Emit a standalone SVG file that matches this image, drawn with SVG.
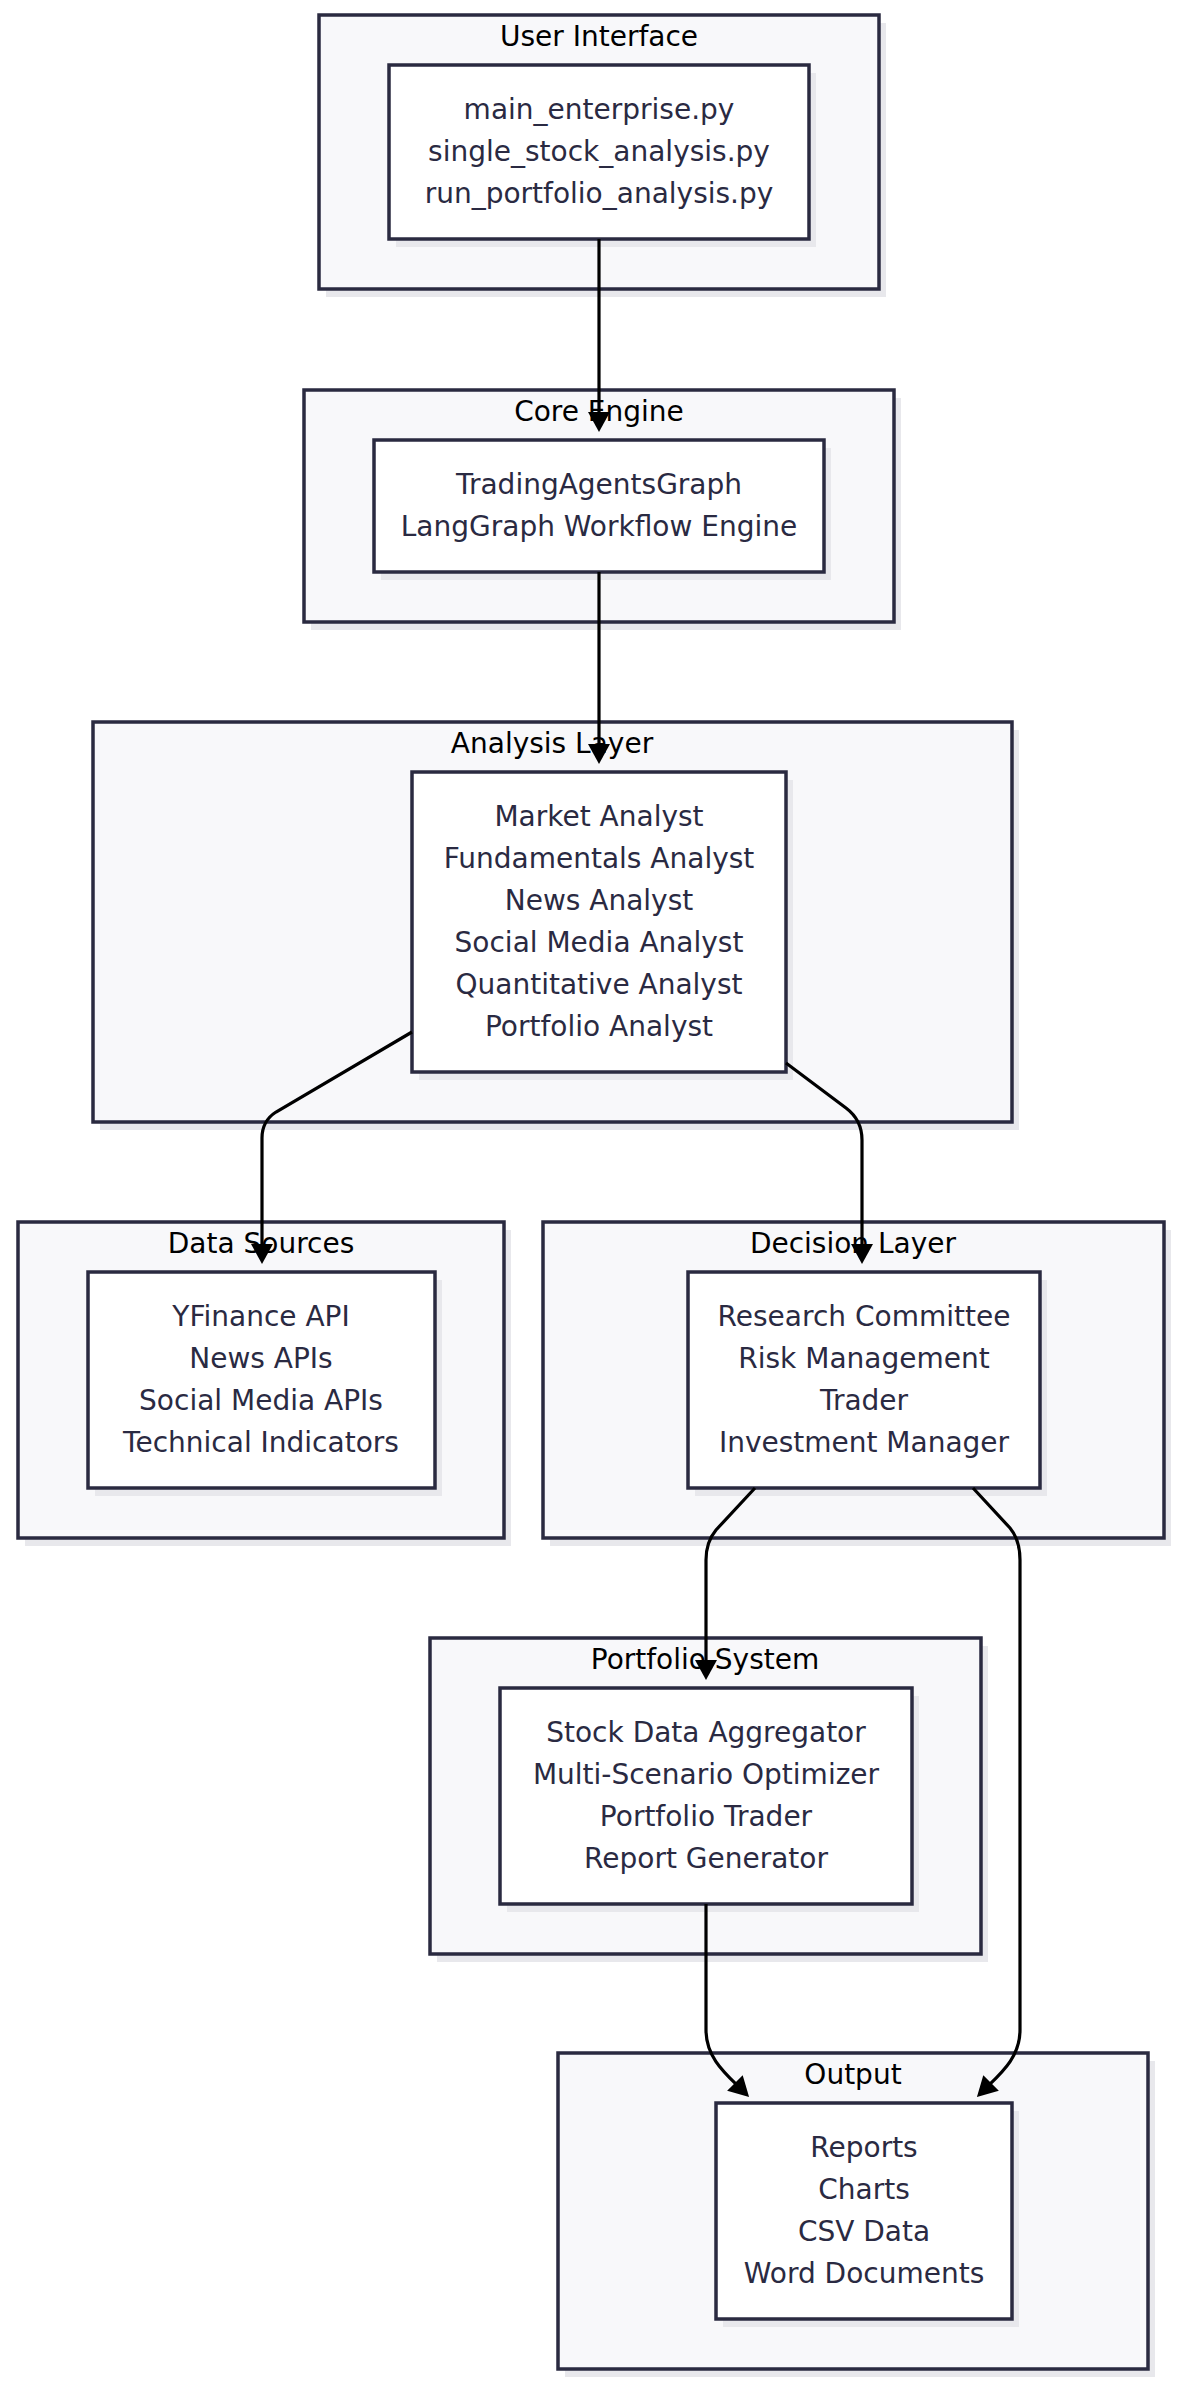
<svg xmlns="http://www.w3.org/2000/svg" width="1182" height="2386" viewBox="0 0 1182 2386">
<defs>
<marker id="arrow" viewBox="0 0 20 22" refX="10" refY="11" markerWidth="20" markerHeight="22" markerUnits="userSpaceOnUse" orient="auto">
<path d="M0,0 L20,11 L0,22 z" fill="#000"/>
</marker>
</defs>
<style>
.cl{fill:#f8f8fa;stroke:#2a2a40;stroke-width:3.5}
.nd{fill:#ffffff;stroke:#2a2a40;stroke-width:3.5}
.sh{fill:#e8e8ec}
.ttl{font-family:"DejaVu Sans",sans-serif;font-size:28px;fill:#000;text-anchor:middle}
.txt{font-family:"DejaVu Sans",sans-serif;font-size:28px;fill:#2a2a42;text-anchor:middle}
.edge{fill:none;stroke:#000;stroke-width:3.2;marker-end:url(#arrow)}
</style>
<rect width="1182" height="2386" fill="#ffffff"/>

<g id="cluster-ui">
<rect class="sh" x="326" y="23" width="560" height="274"/>
<rect class="cl" x="319" y="15" width="560" height="274"/>
<text class="ttl" x="599" y="46">User Interface</text>
</g>
<g id="cluster-core">
<rect class="sh" x="311" y="398" width="590" height="232"/>
<rect class="cl" x="304" y="390" width="590" height="232"/>
<text class="ttl" x="599" y="421">Core Engine</text>
</g>
<g id="cluster-analysis">
<rect class="sh" x="100" y="730" width="919" height="400"/>
<rect class="cl" x="93" y="722" width="919" height="400"/>
<text class="ttl" x="552" y="753">Analysis Layer</text>
</g>
<g id="cluster-data">
<rect class="sh" x="25" y="1230" width="486" height="316"/>
<rect class="cl" x="18" y="1222" width="486" height="316"/>
<text class="ttl" x="261" y="1253">Data Sources</text>
</g>
<g id="cluster-decision">
<rect class="sh" x="550" y="1230" width="621" height="316"/>
<rect class="cl" x="543" y="1222" width="621" height="316"/>
<text class="ttl" x="853" y="1253">Decision Layer</text>
</g>
<g id="cluster-portfolio">
<rect class="sh" x="437" y="1646" width="551" height="316"/>
<rect class="cl" x="430" y="1638" width="551" height="316"/>
<text class="ttl" x="705" y="1669">Portfolio System</text>
</g>
<g id="cluster-output">
<rect class="sh" x="565" y="2061" width="590" height="316"/>
<rect class="cl" x="558" y="2053" width="590" height="316"/>
<text class="ttl" x="853" y="2084">Output</text>
</g>

<g id="node-ui">
<rect class="sh" x="396" y="73" width="420" height="174"/>
<rect class="nd" x="389" y="65" width="420" height="174"/>
<text class="txt" x="599" y="119">main_enterprise.py</text>
<text class="txt" x="599" y="161">single_stock_analysis.py</text>
<text class="txt" x="599" y="203">run_portfolio_analysis.py</text>
</g>
<g id="node-core">
<rect class="sh" x="381" y="448" width="450" height="132"/>
<rect class="nd" x="374" y="440" width="450" height="132"/>
<text class="txt" x="599" y="494">TradingAgentsGraph</text>
<text class="txt" x="599" y="536">LangGraph Workflow Engine</text>
</g>
<g id="node-analysis">
<rect class="sh" x="419" y="780" width="374" height="300"/>
<rect class="nd" x="412" y="772" width="374" height="300"/>
<text class="txt" x="599" y="826">Market Analyst</text>
<text class="txt" x="599" y="868">Fundamentals Analyst</text>
<text class="txt" x="599" y="910">News Analyst</text>
<text class="txt" x="599" y="952">Social Media Analyst</text>
<text class="txt" x="599" y="994">Quantitative Analyst</text>
<text class="txt" x="599" y="1036">Portfolio Analyst</text>
</g>
<g id="node-data">
<rect class="sh" x="95" y="1280" width="347" height="216"/>
<rect class="nd" x="88" y="1272" width="347" height="216"/>
<text class="txt" x="261" y="1326">YFinance API</text>
<text class="txt" x="261" y="1368">News APIs</text>
<text class="txt" x="261" y="1410">Social Media APIs</text>
<text class="txt" x="261" y="1452">Technical Indicators</text>
</g>
<g id="node-decision">
<rect class="sh" x="695" y="1280" width="352" height="216"/>
<rect class="nd" x="688" y="1272" width="352" height="216"/>
<text class="txt" x="864" y="1326">Research Committee</text>
<text class="txt" x="864" y="1368">Risk Management</text>
<text class="txt" x="864" y="1410">Trader</text>
<text class="txt" x="864" y="1452">Investment Manager</text>
</g>
<g id="node-portfolio">
<rect class="sh" x="507" y="1696" width="412" height="216"/>
<rect class="nd" x="500" y="1688" width="412" height="216"/>
<text class="txt" x="706" y="1742">Stock Data Aggregator</text>
<text class="txt" x="706" y="1784">Multi-Scenario Optimizer</text>
<text class="txt" x="706" y="1826">Portfolio Trader</text>
<text class="txt" x="706" y="1868">Report Generator</text>
</g>
<g id="node-output">
<rect class="sh" x="723" y="2111" width="296" height="216"/>
<rect class="nd" x="716" y="2103" width="296" height="216"/>
<text class="txt" x="864" y="2157">Reports</text>
<text class="txt" x="864" y="2199">Charts</text>
<text class="txt" x="864" y="2241">CSV Data</text>
<text class="txt" x="864" y="2283">Word Documents</text>
</g>

<g id="connectors">
<path class="edge" d="M599,239 L599,422"/>
<path class="edge" d="M599,572 L599,754"/>
<path class="edge" d="M412,1032 L276,1112 Q262,1121 262,1138 L262,1254"/>
<path class="edge" d="M786,1063 L846,1108 Q862,1120 862,1140 L862,1254"/>
<path class="edge" d="M755,1488 L716,1530 Q706,1542 706,1560 L706,1670"/>
<path class="edge" d="M973,1488 L1010,1528 Q1020,1540 1020,1560 L1020,2030 C1020,2058 1000,2074 984,2090"/>
<path class="edge" d="M706,1904 L706,2030 C706,2058 726,2074 742,2090"/>
</g>
</svg>
